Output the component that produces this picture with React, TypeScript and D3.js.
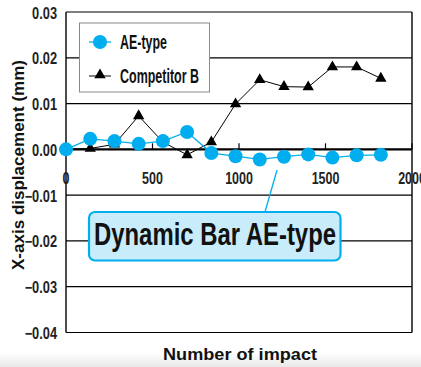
import React from "react";
import * as d3 from "d3";

// Impact counts at which displacement was measured
const impacts = [0, 140, 280, 420, 560, 700, 840, 980, 1120, 1260, 1400, 1540, 1680, 1820];
// X-axis displacement (mm) per series
const aeType = [0, 0.0023, 0.0018, 0.0012, 0.0018, 0.0038, -0.0008, -0.0015, -0.0022, -0.0016, -0.0011, -0.0018, -0.0013, -0.0012];
const competitorB = [0, 0.0002, 0.0011, 0.0073, 0.0016, -0.0012, 0.0016, 0.0099, 0.0152, 0.0137, 0.0136, 0.018, 0.018, 0.0155];
const yTicks = [0.03, 0.02, 0.01, 0, -0.01, -0.02, -0.03, -0.04];
const xTicks = [0, 500, 1000, 1500, 2000];
const seriesNames = ["AE-type", "Competitor B"];
const callout = "Dynamic Bar AE-type";

const W = 421;
const H = 367;
const plot = { left: 66, right: 412, top: 12, bottom: 332.5 };
const BLUE = "#00aeef";
const NARROW = "'Liberation Sans Narrow', 'Arial Narrow', 'Liberation Sans', sans-serif";
const SANS = "'Liberation Sans', Arial, sans-serif";

export default function App() {
  const x = d3.scaleLinear().domain([0, 2000]).range([plot.left, plot.right]);
  const y = d3.scaleLinear().domain([-0.04, 0.03]).range([plot.bottom, plot.top]);

  const line = d3
    .line<number>()
    .x((_, i) => x(impacts[i]))
    .y((d) => y(d));

  const tri = d3.symbol().type(d3.symbolTriangle).size(56)() as string;

  return (
    <svg width={W} height={H} style={{ position: "absolute", left: 0, top: 0 }}>
      <defs>
        <linearGradient id="floor" x1="0" y1="0" x2="0" y2="1">
          <stop offset="0" stopColor="#ffffff" />
          <stop offset="1" stopColor="#e9e9e9" />
        </linearGradient>
      </defs>
      <rect x={0} y={0} width={W} height={H} fill="#fff" />
      <rect x={0} y={352} width={W} height={H - 352} fill="url(#floor)" />

      {/* horizontal grid */}
      {yTicks.map((t) => (
        <line
          key={t}
          x1={plot.left}
          x2={plot.right}
          y1={y(t)}
          y2={y(t)}
          stroke="#000"
          strokeWidth={t === 0 ? 2.4 : 1.2}
        />
      ))}
      {/* frame */}
      <line x1={plot.left} x2={plot.left} y1={plot.top} y2={plot.bottom} stroke="#000" strokeWidth={1.4} />
      <line x1={plot.right} x2={plot.right} y1={plot.top} y2={plot.bottom} stroke="#000" strokeWidth={1.4} />

      {/* x ticks on the zero line */}
      {xTicks.map((t) => (
        <line key={t} x1={x(t)} x2={x(t)} y1={y(0)} y2={y(0) - 6} stroke="#000" strokeWidth={1.2} />
      ))}

      {/* y tick labels */}
      {yTicks.map((t) => (
        <text
          key={t}
          transform={`translate(57,${y(t) + 0.8}) scale(0.8,1)`}
          dy="0.36em"
          textAnchor="end"
          fontFamily={NARROW}
          fontWeight="bold"
          fontSize={16}
          fill="#222"
        >
          {t === 0 ? "0.00" : d3.format(".2f")(t)}
        </text>
      ))}
      {/* x tick labels */}
      {xTicks.map((t) => (
        <text
          key={t}
          transform={`translate(${x(t)},184) scale(0.78,1)`}
          textAnchor="middle"
          fontFamily={NARROW}
          fontWeight="bold"
          fontSize={16}
          fill="#222"
        >
          {t}
        </text>
      ))}

      {/* Competitor B */}
      <path d={line(competitorB) ?? ""} fill="none" stroke="#000" strokeWidth={1} />
      {competitorB.map((v, i) => (
        <path key={i} d={tri} transform={`translate(${x(impacts[i])},${y(v)})`} fill="#000" />
      ))}

      {/* AE-type */}
      <path d={line(aeType) ?? ""} fill="none" stroke={BLUE} strokeWidth={1.3} />
      {aeType.map((v, i) => (
        <circle key={i} cx={x(impacts[i])} cy={y(v)} r={7} fill={BLUE} />
      ))}

      {/* legend */}
      <rect x={79.5} y={23} width={130} height={69} fill="#fff" stroke="#888" strokeWidth={1} />
      <line x1={89} x2={111} y1={42} y2={42} stroke={BLUE} strokeWidth={1.3} />
      <circle cx={100} cy={42} r={7} fill={BLUE} />
      <text x={120} y={49} fontFamily={NARROW} fontWeight="bold" fontSize={21} textLength={47} lengthAdjust="spacingAndGlyphs" fill="#111">
        {seriesNames[0]}
      </text>
      <line x1={89} x2={111} y1={76} y2={76} stroke="#000" strokeWidth={1} />
      <path d={tri} transform="translate(100,75)" fill="#000" />
      <text x={120} y={83} fontFamily={NARROW} fontWeight="bold" fontSize={21} textLength={79} lengthAdjust="spacingAndGlyphs" fill="#111">
        {seriesNames[1]}
      </text>

      {/* callout */}
      <line x1={265} y1={212} x2={277} y2={170} stroke={BLUE} strokeWidth={1.3} />
      <rect x={89} y={212} width={251.5} height={48.5} rx={6} fill="#c8ecfa" stroke={BLUE} strokeWidth={2.2} />
      <text x={94} y={245} fontFamily={NARROW} fontWeight="bold" fontSize={32} textLength={242} lengthAdjust="spacingAndGlyphs" fill="#111">
        {callout}
      </text>

      {/* axis titles */}
      <text
        transform="translate(24,165) rotate(-90)"
        textAnchor="middle"
        fontFamily={SANS}
        fontWeight="bold"
        fontSize={16.5}
        textLength={210}
        lengthAdjust="spacingAndGlyphs"
        fill="#111"
      >
        X-axis displacement (mm)
      </text>
      <text
        x={163}
        y={360}
        fontFamily={SANS}
        fontWeight="bold"
        fontSize={16.5}
        textLength={154}
        lengthAdjust="spacingAndGlyphs"
        fill="#111"
      >
        Number of impact
      </text>
    </svg>
  );
}
